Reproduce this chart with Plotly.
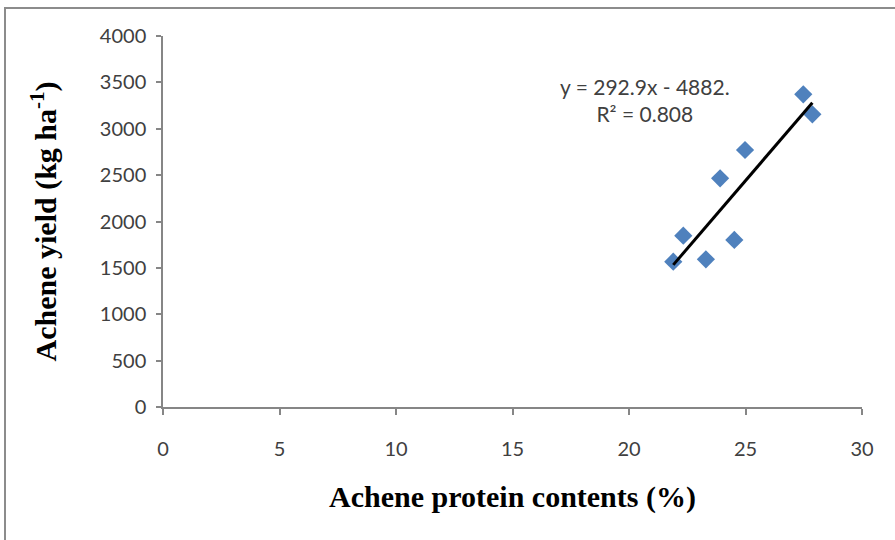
import plotly.graph_objects as go

# Achene protein contents (%) vs achene yield (kg/ha)
protein = [21.9, 22.33, 23.3, 23.91, 24.52, 24.98, 27.48, 27.87]
yield_kg = [1567, 1847, 1592, 2466, 1801, 2771, 3371, 3156]

# Linear trend shown on the chart
slope = 292.9
intercept = -4882.0
r_squared = 0.808

x_ticks = [0, 5, 10, 15, 20, 25, 30]
y_ticks = [0, 500, 1000, 1500, 2000, 2500, 3000, 3500, 4000]

trend_x = [min(protein), max(protein)]
trend_y = [slope * v + intercept for v in trend_x]

fig = go.Figure()
fig.add_trace(go.Scatter(
    x=protein, y=yield_kg, mode="markers",
    marker=dict(symbol="diamond", size=14, color="#4F81BD",
                line=dict(width=0)),
    showlegend=False,
))
fig.add_trace(go.Scatter(
    x=trend_x, y=trend_y, mode="lines",
    line=dict(color="black", width=3),
    showlegend=False,
))

tick_font = dict(family="Lato, 'Open Sans', sans-serif", size=20, color="#404040")
title_font = dict(family="'Liberation Serif', 'Times New Roman', serif", size=30, color="black")

fig.update_layout(
    width=895, height=540,
    margin=dict(l=163, r=33, t=36, b=133),
    plot_bgcolor="white", paper_bgcolor="white",
    xaxis=dict(
        range=[0, 30], tickvals=x_ticks, ticktext=[str(v) for v in x_ticks],
        showgrid=False, zeroline=False,
        showline=True, linecolor="#868686", linewidth=1.5,
        ticks="outside", ticklen=6, tickcolor="#868686", tickwidth=1.5,
        tickfont=tick_font, ticklabelstandoff=17,
        title=dict(text="<b>Achene protein contents (%)</b>", font=title_font, standoff=27),
    ),
    yaxis=dict(
        range=[0, 4000], tickvals=y_ticks, ticktext=[str(v) for v in y_ticks],
        showgrid=False, zeroline=False,
        showline=True, linecolor="#868686", linewidth=1.5,
        ticks="outside", ticklen=5, tickcolor="#868686", tickwidth=1.5,
        tickfont=tick_font, ticklabelstandoff=6,
        title=dict(text="<b>Achene yield (kg ha<sup>-1</sup>)</b>", font=title_font, standoff=34),
    ),
    annotations=[dict(
        xref="x", yref="y", x=20.7, y=3310,
        text=f"y = {slope}x - {intercept * -1:.0f}.<br>R² = {r_squared}",
        showarrow=False, align="center",
        font=dict(family="Lato, 'Open Sans', sans-serif", size=21, color="#404040"),
    )],
    shapes=[dict(
        type="rect", xref="paper", yref="paper",
        x0=(5 - 163) / 699, x1=(905 - 163) / 699,
        y0=(407 - 550) / 371, y1=(407 - 8) / 371,
        line=dict(color="#8c8c8c", width=2), fillcolor="rgba(0,0,0,0)",
        layer="below",
    )],
)

fig.write_html("out.html")
